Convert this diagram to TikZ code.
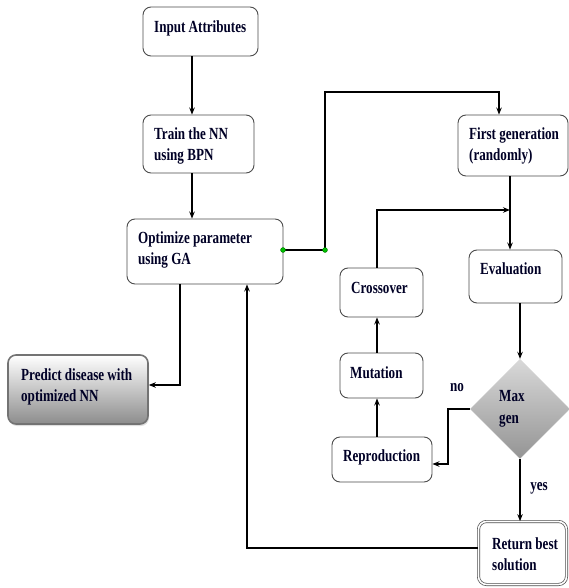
\documentclass[tikz,border=0pt]{standalone}
\usepackage{fontspec}
\setmainfont{Liberation Serif}[FakeStretch=0.77]
\usetikzlibrary{arrows.meta,shapes.geometric,shadows}
\begin{document}
\begin{tikzpicture}[x=1pt,y=-1pt,
 box/.style={draw=black!70, line width=0.9pt, rounded corners=8pt, fill=white},
 txt/.style={anchor=west, inner sep=0pt, align=left, font=\fontsize{17}{21.5}\selectfont\bfseries, text=black!85!blue},
 conn/.style={line width=1.4pt, -{Stealth[length=7pt,width=5.5pt]}},
 dot/.style={circle, fill=green!75!black, draw=green!40!black, line width=0.3pt, inner sep=0pt, minimum size=5pt}]
\useasboundingbox (0,0) rectangle (569,588);
% boxes
\node[box, minimum width=115pt, minimum height=49pt] (inp) at (200.5,31.5) {};
\node[box, minimum width=111pt, minimum height=58pt] (train) at (198.5,144) {};
\node[box, minimum width=156pt, minimum height=65pt] (opt) at (205,251.5) {};
\node[box, minimum width=140pt, minimum height=69pt, draw=black!55, line width=1.6pt,
      top color=white, bottom color=black!45,
      drop shadow={opacity=0.25, shadow xshift=1pt, shadow yshift=-2pt}] (pred) at (78,389.5) {};
\node[box, minimum width=110pt, minimum height=61pt] (fg) at (513,145.5) {};
\node[box, minimum width=93pt, minimum height=53pt] (eval) at (515.5,276.5) {};
\node[box, minimum width=83pt, minimum height=49pt] (cross) at (381.5,292.5) {};
\node[box, minimum width=83pt, minimum height=45pt] (mut) at (381.5,375.5) {};
\node[box, minimum width=100pt, minimum height=45pt] (rep) at (382,459.5) {};
\node[diamond, aspect=1, minimum size=100pt, inner sep=0pt, draw=black!12,
      top color=black!15, bottom color=black!42] (dia) at (520,409) {};
\node[box, minimum width=88pt, minimum height=63pt, line width=0.7pt,
      double, double distance=1.6pt] (ret) at (522.5,553) {};
% texts
\node[txt] (inpT) at (154,28) {Input Attributes};
\node[txt] (trainT) at (154,146) {Train the NN\\using BPN};
\node[txt] (optT) at (138,250) {Optimize parameter\\using GA};
\node[txt] (predT) at (21,387) {Predict disease with\\optimized NN};
\node[txt] (fgT) at (469,146) {First generation\\(randomly)};
\node[txt] (evalT) at (480,269) {Evaluation};
\node[txt] (crossT) at (351,288) {Crossover};
\node[txt] (mutT) at (350,373) {Mutation};
\node[txt] (repT) at (343,457) {Reproduction};
\node[txt] (diaT) at (499,409) {Max\\gen};
\node[txt] (retT) at (492,554) {Return best\\solution};
\node[txt, anchor=center] (noT) at (457,388) {no};
\node[txt, anchor=center] (yesT) at (539,488) {yes};
% connectors
\draw[conn] (192,0 |- inp.south) -- (192,0 |- train.north);
\draw[conn] (192,0 |- train.south) -- (192,0 |- opt.north);
\coordinate (g1) at (283,250);
\coordinate (g2) at (325,250);
\coordinate (top) at (325,92);
\draw[conn] (g1) -- (g2) -- (top) -| (499,0 |- fg.north);
\draw[conn] (510,0 |- fg.south) -- (510,0 |- eval.north);
\coordinate (join) at (510,210);
\draw[conn] (377,0 |- cross.north) |- (join);
\draw[conn] (520,0 |- eval.south) -- (dia.north);
\coordinate (nobend) at (448,409);
\draw[conn] (dia.west) -- (nobend) |- (rep.east |- 0,464);
\draw[conn] (377,0 |- rep.north) -- (377,0 |- mut.south);
\draw[conn] (377,0 |- mut.north) -- (377,0 |- cross.south);
\draw[conn] (dia.south) -- (520,0 |- ret.north);
\draw[conn] (ret.west |- 0,548) -| (247,0 |- opt.south);
\draw[conn] (180,0 |- opt.south) |- (pred.east |- 0,385);
% junction dots
\node[dot] (d1) at (g1) {};
\node[dot] (d2) at (g2) {};
\end{tikzpicture}
\end{document}
